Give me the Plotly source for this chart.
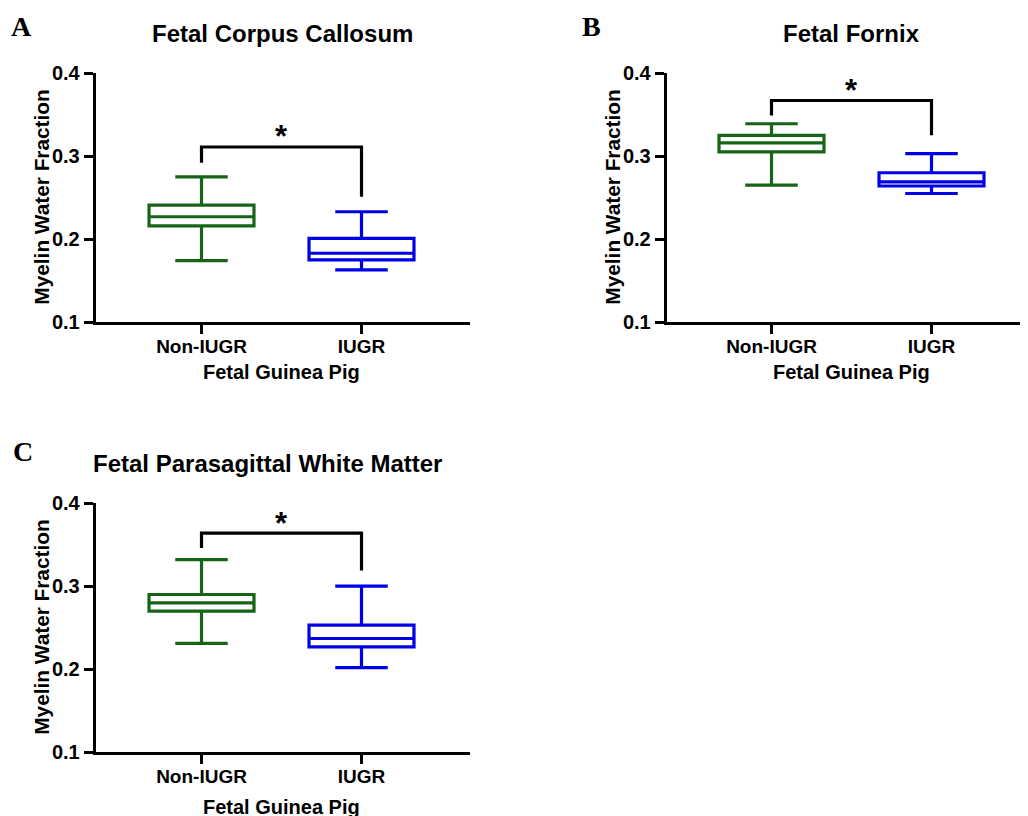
import plotly.graph_objects as go

groups = ["Non-IUGR", "IUGR"]
panel_letters = ["A", "B", "C"]
panel_titles = ["Fetal Corpus Callosum", "Fetal Fornix", "Fetal Parasagittal White Matter"]
y_ticks = [0.1, 0.2, 0.3, 0.4]
y_tick_labels = ["0.1", "0.2", "0.3", "0.4"]
x_title = "Fetal Guinea Pig"
y_title = "Myelin Water Fraction"

# box statistics per panel: [Non-IUGR, IUGR]
cc_low = [0.174, 0.163]
cc_q1 = [0.216, 0.175]
cc_med = [0.227, 0.183]
cc_q3 = [0.241, 0.201]
cc_high = [0.275, 0.233]

fx_low = [0.265, 0.255]
fx_q1 = [0.305, 0.264]
fx_med = [0.316, 0.269]
fx_q3 = [0.325, 0.280]
fx_high = [0.339, 0.303]

pw_low = [0.231, 0.202]
pw_q1 = [0.270, 0.227]
pw_med = [0.280, 0.237]
pw_q3 = [0.290, 0.253]
pw_high = [0.332, 0.300]

# significance bracket: [left leg bottom, bar level, right leg bottom]
cc_bracket = [0.292, 0.311, 0.251]
fx_bracket = [0.349, 0.367, 0.325]
pw_bracket = [0.346, 0.364, 0.319]
sig_label = "*"

stats = [
    (cc_low, cc_q1, cc_med, cc_q3, cc_high, cc_bracket),
    (fx_low, fx_q1, fx_med, fx_q3, fx_high, fx_bracket),
    (pw_low, pw_q1, pw_med, pw_q3, pw_high, pw_bracket),
]

colors = ["#166416", "#0000E6"]
W, H = 1021, 820
FONT = "Liberation Sans, Arial, sans-serif"
SERIF = "Liberation Serif, Times New Roman, serif"

# screen placement -> figure pixel conversion
SX, OX = 1.0, 7.5
SY, OY = 0.973, 18.9


def fx(x):
    return (x - OX) / SX


def fy(y):
    return (y - OY) / SY


def px(x):
    return fx(x) / W


def py(y):
    return 1 - fy(y) / H


# layout targets in screen pixels
axes_px = [(95, 469, 73, 322), (666, 1028, 73, 322), (95, 469, 503, 752)]
first_cat_px = [201, 771, 201]
cat_step_px = 160.0
title_px = [(282, 33), (851, 33), (267, 463)]
xtitle_px = [(281, 372), (851, 372), (281, 807)]
ytitle_px = [(41, 197), (612, 197), (41, 627)]
letter_px = [(21, 26), (591, 26), (22, 451)]

fig = go.Figure()
annotations = []
for i, (low, q1, med, q3, high, br) in enumerate(stats):
    xa = "x" if i == 0 else f"x{i+1}"
    ya = "y" if i == 0 else f"y{i+1}"
    for j, g in enumerate(groups):
        fig.add_trace(go.Box(
            x=[j], lowerfence=[low[j]], q1=[q1[j]], median=[med[j]], q3=[q3[j]],
            upperfence=[high[j]], name=g, width=0.656, whiskerwidth=0.5,
            line=dict(color=colors[j], width=3.2), fillcolor="rgba(255,255,255,0)",
            boxpoints=False, xaxis=xa, yaxis=ya, showlegend=False, hoverinfo="skip",
        ))
    fig.add_trace(go.Scatter(
        x=[0, 0, 1, 1], y=[br[0], br[1], br[1], br[2]], mode="lines",
        line=dict(color="black", width=3.2), xaxis=xa, yaxis=ya,
        showlegend=False, hoverinfo="skip",
    ))
    xl, xr, yt, yb = axes_px[i]
    xr_fig = min(fx(xr), W)
    x0 = -(first_cat_px[i] - xl) / cat_step_px
    x1 = x0 + (xr_fig - fx(xl)) * SX / cat_step_px
    key_x = "xaxis" if i == 0 else f"xaxis{i+1}"
    key_y = "yaxis" if i == 0 else f"yaxis{i+1}"
    fig.layout[key_x] = dict(
        domain=[px(xl), xr_fig / W], range=[x0, x1], tickvals=[0, 1], ticktext=groups,
        showline=True, linecolor="black", linewidth=2.5, ticks="outside",
        ticklen=9, tickwidth=2.5, tickcolor="black", showgrid=False, zeroline=False,
        anchor=ya, fixedrange=True, ticklabelstandoff=-4,
        tickfont=dict(family=FONT, size=19, color="black", weight="bold"),
    )
    fig.layout[key_y] = dict(
        domain=[py(yb), py(yt)], range=[0.1, 0.4], tickvals=y_ticks, ticktext=y_tick_labels,
        showline=True, linecolor="black", linewidth=2.5, ticks="outside",
        ticklen=9, tickwidth=2.5, tickcolor="black", showgrid=False, zeroline=False,
        anchor=xa, fixedrange=True,
        tickfont=dict(family=FONT, size=20, color="black", weight="bold"),
    )
    annotations.append(dict(
        x=0.5, y=br[1], xref=xa, yref=ya, text=sig_label, showarrow=False,
        yanchor="middle", yshift=10,
        font=dict(family=FONT, size=31, color="black", weight="bold"),
    ))
    tx, ty = title_px[i]
    annotations.append(dict(
        x=px(tx), y=py(ty), xref="paper", yref="paper", text=panel_titles[i],
        showarrow=False, xanchor="center", yanchor="middle",
        font=dict(family=FONT, size=24, color="black", weight="bold"),
    ))
    tx, ty = xtitle_px[i]
    annotations.append(dict(
        x=px(tx), y=py(ty), xref="paper", yref="paper", text=x_title,
        showarrow=False, xanchor="center", yanchor="middle",
        font=dict(family=FONT, size=20, color="black", weight="bold"),
    ))
    tx, ty = ytitle_px[i]
    annotations.append(dict(
        x=px(tx), y=py(ty), xref="paper", yref="paper", text=y_title,
        textangle=-90, showarrow=False, xanchor="center", yanchor="middle",
        font=dict(family=FONT, size=20.8, color="black", weight="bold"),
    ))
    tx, ty = letter_px[i]
    annotations.append(dict(
        x=px(tx), y=py(ty), xref="paper", yref="paper", text=panel_letters[i],
        showarrow=False, xanchor="center", yanchor="middle",
        font=dict(family=SERIF, size=28, color="black", weight="bold"),
    ))

fig.update_layout(
    width=W, height=H, margin=dict(l=0, r=0, t=0, b=0),
    paper_bgcolor="white", plot_bgcolor="white", annotations=annotations,
    showlegend=False,
)
fig.write_html("out.html", include_plotlyjs=True, full_html=True,
               config={"displayModeBar": False})
